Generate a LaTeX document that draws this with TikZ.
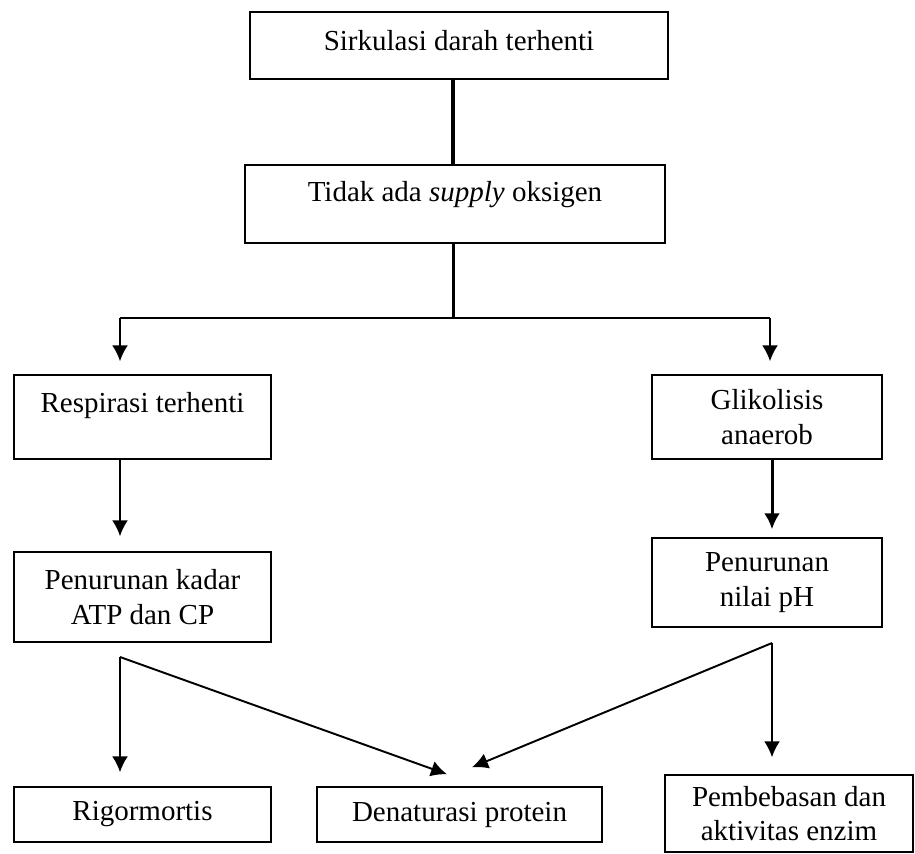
\documentclass[tikz,border=0pt]{standalone}
\usepackage{fontspec}
\setmainfont{Liberation Serif}
\usetikzlibrary{arrows.meta,calc}
\tikzset{
	box/.style={draw, line width=0.85pt, align=center, inner sep=0pt,
			font=\fontsize{16.5}{19.8}\selectfont},
	link/.style={line width=1.1pt, -{Latex[length=0.32cm,width=0.32cm]}}
}

\begin{document}
\begin{tikzpicture}[x=0.02cm,y=-0.02cm]
	\useasboundingbox (0,0) rectangle (915,854);
	% boxes
	\node [box,minimum width=8.36cm,minimum height=1.34cm,text depth=5.7pt] (sirk) at (459,45.5) {Sirkulasi darah terhenti};
	\node [box,minimum width=8.4cm,minimum height=1.56cm,text depth=14pt] (tidak) at (455,204) {Tidak ada \textit{supply} oksigen};
	\node [box,minimum width=5.14cm,minimum height=1.68cm] (resp) at (142.5,417) {Respirasi terhenti\\[-9pt]\strut};
	\node [box,minimum width=4.6cm,minimum height=1.68cm] (glik) at (767,417) {Glikolisis\\anaerob};
	\node [box,minimum width=5.14cm,minimum height=1.8cm] (kadar) at (142.5,597) {Penurunan kadar\\ATP dan CP};
	\node [box,minimum width=4.6cm,minimum height=1.78cm] (ph) at (767,582.5) {Penurunan\\nilai pH};
	\node [box,minimum width=5.14cm,minimum height=1.1cm] (rigor) at (142.5,814.5) {Rigormortis};
	\node [box,minimum width=5.7cm,minimum height=1.1cm] (denat) at (459.5,814.5) {Denaturasi protein};
	\node [box,minimum width=4.96cm,minimum height=1.54cm] (enzim) at (789,813.5) {Pembebasan dan\\aktivitas enzim};
	% branch points
	\coordinate (split) at (453,318);
	\coordinate (lt) at (120,318);
	\coordinate (rt) at (770,318);
	\coordinate (kfork) at (120,657);
	\coordinate (pfork) at (772,643);
	% connectors
	\draw [line width=2.3pt] (split |- sirk.south) -- (split |- tidak.north);
	\draw [line width=1.7pt] (split |- tidak.south) -- (split);
	\draw [line width=1.1pt] (lt) -- (rt);
	\draw [link,shorten >=0.26cm] (lt) -- (lt |- resp.north);
	\draw [link,shorten >=0.26cm] (rt) -- (rt |- glik.north);
	\draw [link,shorten >=0.3cm] (lt |- resp.south) -- (lt |- kadar.north);
	\draw [link,line width=1.7pt,shorten >=0.16cm] (pfork |- glik.south) -- (pfork |- ph.north);
	\draw [link,shorten >=0.28cm] (kfork) -- (kfork |- rigor.north);
	\draw [link] (kfork) -- ($(denat.north)+(-12.5,-12)$);
	\draw [link] (pfork) -- ($(denat.north)+(12.5,-19)$);
	\draw [link,shorten >=0.34cm] (pfork) -- (pfork |- enzim.north);
\end{tikzpicture}
\end{document}
